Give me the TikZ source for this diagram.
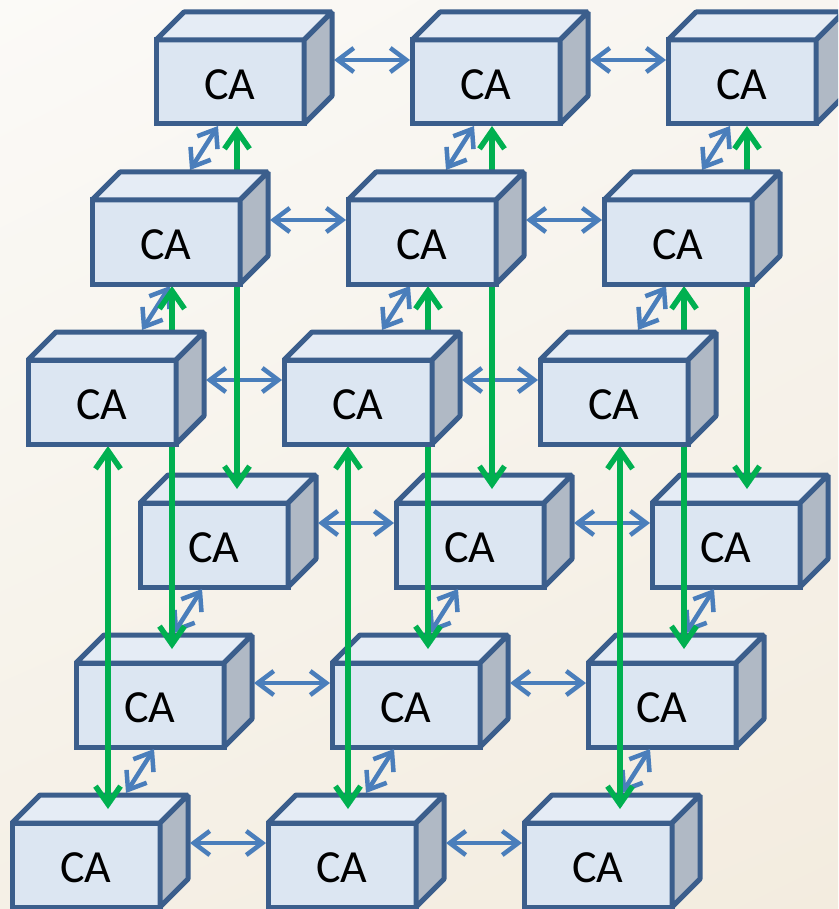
\documentclass[tikz,border=0pt]{standalone}
\usepackage{fontspec}
\setmainfont{Carlito}
\usetikzlibrary{arrows.meta,calc,shadings}
\definecolor{cFront}{HTML}{DCE6F2}
\definecolor{cTop}{HTML}{E5ECF5}
\definecolor{cSide}{HTML}{B0B9C5}
\definecolor{cEdge}{HTML}{3B5E8C}
\definecolor{cBlue}{HTML}{4A7EBB}
\definecolor{cGreen}{HTML}{00B050}
\definecolor{bgUL}{HTML}{FBFAF7}
\definecolor{bgUR}{HTML}{F8F5F0}
\definecolor{bgLL}{HTML}{F5F0E6}
\definecolor{bgLR}{HTML}{F3ECDF}
\pgfdeclarelayer{bg}
\pgfdeclarelayer{lowbox}
\pgfdeclarelayer{bluearr}
\pgfdeclarelayer{greenarr}
\pgfsetlayers{bg,lowbox,bluearr,greenarr,main}
\newcommand\cabox[3]{%
  \node[cabox] (#1) at (#2,#3) {};
  \draw[caface, fill=cTop] (#1.north west) -- ++(28,-28) -- ++(148,0) -- (#1.north east) -- cycle;
  \draw[caface, fill=cSide] (#1.north east) -- ++(28,-28) -- ++(0,84) -- (#1.south east) -- cycle;
  \node[calabel] (#1t) at ($(#1.center)+(0,3)$) {CA};
}
\begin{document}
\begin{tikzpicture}[x=1pt,y=-1pt,
  cabox/.style={draw=cEdge, fill=cFront, line width=5pt, minimum width=148pt,
    minimum height=84pt, inner sep=0pt, outer sep=0pt},
  calabel/.style={inner sep=0pt, font=\fontsize{46pt}{46pt}\selectfont, text=black},
  caface/.style={draw=cEdge, line width=5pt, line join=bevel},
  blu/.style={draw=cBlue, line width=4.5pt,
    arrows={Straight Barb[length=16pt,width=24pt]-Straight Barb[length=16pt,width=24pt]}},
  grn/.style={draw=cGreen, line width=5.5pt,
    arrows={Straight Barb[length=18pt,width=25pt]-Straight Barb[length=18pt,width=25pt]}}]
\useasboundingbox (0,0) rectangle (838,909);
\begin{pgfonlayer}{bg}
\shade[upper left=bgUL, upper right=bgUR, lower left=bgLL, lower right=bgLR] (0,0) rectangle (838,909);
\end{pgfonlayer}
\clip (0,0) rectangle (838,909);
% top layer
\cabox{b11}{230}{82}\cabox{b12}{486}{82}\cabox{b13}{742}{82}
\cabox{b21}{166}{242}\cabox{b22}{422}{242}\cabox{b23}{678}{242}
\cabox{b31}{102}{402}\cabox{b32}{358}{402}\cabox{b33}{614}{402}
% bottom layer
\begin{pgfonlayer}{lowbox}
\cabox{b41}{214}{545}\cabox{b42}{470}{545}\cabox{b43}{726}{545}
\cabox{b51}{150}{705}\cabox{b52}{406}{705}\cabox{b53}{662}{705}
\cabox{b61}{86}{865}\cabox{b62}{342}{865}\cabox{b63}{598}{865}
\end{pgfonlayer}
% blue links
\begin{pgfonlayer}{bluearr}
\foreach \r in {1,...,6}{
  \draw[blu] ($(b\r1.north east)+(30,20)$) -- ($(b\r2.north west)+(-2,20)$);
  \draw[blu] ($(b\r2.north east)+(30,20)$) -- ($(b\r3.north west)+(-2,20)$);
}
\foreach \u/\l in {1/2,4/5}{
  \foreach \c in {1,2,3}{
    \draw[blu] ($(b\u\c.south)+(-12,2)$) -- ($(b\l\c.north)+(24,-30)$);
  }
}
\foreach \u/\l in {2/3,5/6}{
  \draw[blu] ($(b\u1.south)+(4,2)$) -- ($(b\l1.north)+(40,-30)$);
  \foreach \c in {2,3}{
    \draw[blu] ($(b\u\c.south)+(-12,2)$) -- ($(b\l\c.north)+(24,-30)$);
  }
}
\end{pgfonlayer}
% green links
\begin{pgfonlayer}{greenarr}
\foreach \u/\l/\c/\dx in {1/4/1/7,1/4/2/6,1/4/3/5,2/5/1/6,2/5/2/6,2/5/3/6,3/6/1/6,3/6/2/-10,3/6/3/6}{
  \draw[grn] ($(b\u\c.south)+(\dx,2)$) -- ($(b\u\c.south |- b\l\c.north)+(\dx,-14)$);
}
\end{pgfonlayer}
\end{tikzpicture}
\end{document}
